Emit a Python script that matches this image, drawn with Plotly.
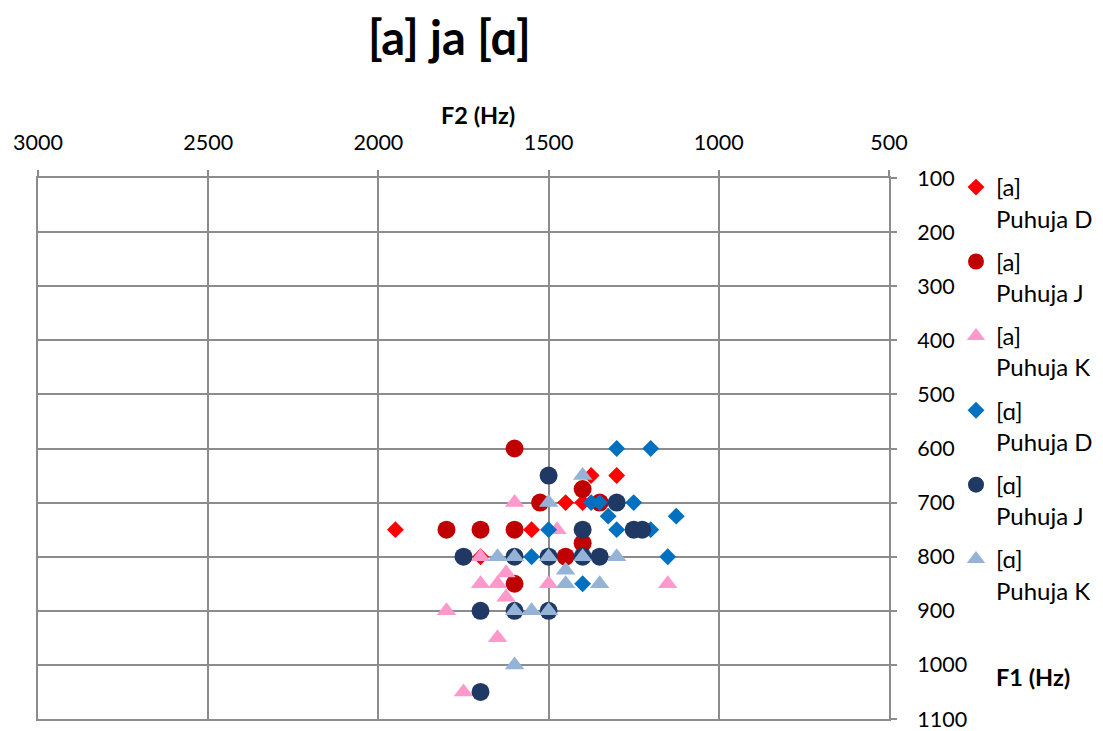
import plotly.graph_objects as go

series_names = ["[a]<br>Puhuja D", "[a]<br>Puhuja J", "[a]<br>Puhuja K",
                "[ɑ]<br>Puhuja D", "[ɑ]<br>Puhuja J", "[ɑ]<br>Puhuja K"]

a_D_f2 = [1950, 1700, 1550, 1450, 1400, 1375, 1300]
a_D_f1 = [750, 800, 750, 700, 700, 650, 650]

a_J_f2 = [1600, 1800, 1700, 1600, 1525, 1400, 1400, 1450, 1600, 1350]
a_J_f1 = [600, 750, 750, 750, 700, 675, 775, 800, 850, 700]

a_K_f2 = [1600, 1475, 1700, 1700, 1650, 1625, 1625, 1500, 1800, 1650, 1750, 1150]
a_K_f1 = [700, 750, 800, 850, 850, 830, 875, 850, 900, 950, 1050, 850]

o_D_f2 = [1300, 1200, 1500, 1550, 1375, 1350, 1250, 1325, 1300, 1200, 1125, 1150, 1400]
o_D_f1 = [600, 600, 750, 800, 700, 700, 700, 725, 750, 750, 725, 800, 850]

o_J_f2 = [1500, 1300, 1400, 1250, 1225, 1750, 1600, 1500, 1400, 1350, 1700, 1600, 1500, 1700]
o_J_f1 = [650, 700, 750, 750, 750, 800, 800, 800, 800, 800, 900, 900, 900, 1050]

o_K_f2 = [1400, 1500, 1650, 1600, 1500, 1400, 1300, 1450, 1450, 1350, 1600, 1550, 1500, 1600]
o_K_f1 = [650, 700, 800, 800, 800, 800, 800, 825, 850, 850, 900, 900, 900, 1000]

x_ticks = [3000, 2500, 2000, 1500, 1000, 500]
y_ticks = [100, 200, 300, 400, 500, 600, 700, 800, 900, 1000, 1100]

FONT = "Lato, 'Noto Sans', sans-serif"
GRID = "#8C8C8C"

data = [
    (a_D_f2, a_D_f1, "diamond", "#FF0000", 13),
    (a_J_f2, a_J_f1, "circle", "#C00000", 18),
    (a_K_f2, a_K_f1, "triangle-up", "#FF99CC", 17),
    (o_D_f2, o_D_f1, "diamond", "#0070C0", 13),
    (o_J_f2, o_J_f1, "circle", "#1F3864", 18),
    (o_K_f2, o_K_f1, "triangle-up", "#95B3D7", 17),
]

fig = go.Figure()
for i, (xs, ys, sym, col, sz) in enumerate(data):
    fig.add_trace(go.Scatter(
        x=xs, y=ys, mode="markers", name=series_names[i],
        legendgroup=f"g{i}",
        marker=dict(symbol=sym, color=col, size=sz, line=dict(width=0)),
    ))

# page body has an 8px margin; work in window pixels and shift
OFF = 8
W, H = 1103 - OFF, 731 - OFF
# desired plot area in window pixels
X0, X1, Y0, Y1 = 38, 889, 178, 719
L, T = X0 - OFF, Y0 - OFF
R = W - (X1 - OFF)
B = H - (Y1 - OFF)
pw = W - L - R
ph = H - T - B

def px2paper(px, py):
    fx, fy = px - OFF, py - OFF
    return (fx - L) / pw, 1 - (fy - T) / ph

lx, ly = px2paper(956, 165)

fig.update_layout(
    width=W, height=H,
    margin=dict(l=L, r=R, t=T, b=B, autoexpand=False),
    plot_bgcolor="white", paper_bgcolor="white",
    font=dict(family=FONT, size=21, color="black"),
    showlegend=True,
    legend=dict(x=lx, y=ly, xanchor="left", yanchor="top",
                font=dict(size=24, family=FONT), valign="top",
                tracegroupgap=9, itemwidth=30, maxheight=700,
                bgcolor="rgba(0,0,0,0)"),
    xaxis=dict(side="top", range=[3000, 500], tickvals=x_ticks,
               showgrid=True, gridcolor=GRID, gridwidth=2,
               zeroline=False, showline=True, mirror=True,
               linecolor=GRID, linewidth=2, automargin=False,
               ticks="outside", ticklen=6, tickcolor=GRID, tickwidth=2,
               tickfont=dict(size=21.5), ticklabelstandoff=11,
               ticklabeloverflow="allow"),
    yaxis=dict(side="right", range=[1100, 100], tickvals=y_ticks,
               showgrid=True, gridcolor=GRID, gridwidth=2,
               zeroline=False, showline=True, mirror=True,
               linecolor=GRID, linewidth=2, automargin=False,
               ticks="outside", ticklen=6, tickcolor=GRID, tickwidth=2,
               tickfont=dict(size=21.5), ticklabelstandoff=16,
               ticklabeloverflow="allow"),
)

anns = [
    ("<b>[a] ja [ɑ]</b>", 449, 8, 47, "top"),
    ("<b>F2 (Hz)</b>", 478, 115, 23.5, "middle"),
    ("<b>F1 (Hz)</b>", 1033, 677, 23.5, "middle"),
]
for text, px, py, fs, ya in anns:
    ax, ay = px2paper(px, py)
    fig.add_annotation(text=text, x=ax, y=ay, xref="paper", yref="paper",
                       xanchor="center", yanchor=ya, borderpad=0,
                       showarrow=False, font=dict(size=fs, family=FONT))

fig.write_html("out.html")
